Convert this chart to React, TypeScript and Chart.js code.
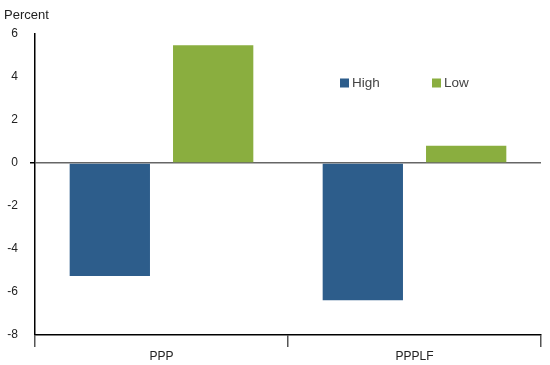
import React, { useEffect, useRef } from "react";
import { Chart, registerables } from "chart.js";

Chart.register(...registerables);

const categories = ["PPP", "PPPLF"];
const highValues = [-5.25, -6.38];
const lowValues = [5.48, 0.8];
const seriesNames = ["High", "Low"];
const seriesColors = ["#2d5d8b", "#8aae3f"];
const yTitle = "Percent";

const FONT = "'Liberation Sans', Arial, sans-serif";

const overlayPlugin = {
  id: "overlay",
  afterDraw(chart: any) {
    const ctx = chart.ctx;
    const area = chart.chartArea;
    ctx.save();
    ctx.font = `13px ${FONT}`;
    ctx.fillStyle = "#222";
    ctx.textBaseline = "middle";
    ctx.textAlign = "left";
    ctx.fillText(yTitle, 4, 15);
    // legend inside plot
    const xs = [area.left + 305, area.left + 397];
    const y = 83;
    chart.data.datasets.forEach((ds: any, i: number) => {
      ctx.fillStyle = ds.backgroundColor;
      ctx.fillRect(xs[i], y - 4.5, 9, 9);
      ctx.fillStyle = "#444";
      ctx.font = `13.5px ${FONT}`;
      ctx.fillText(ds.label, xs[i] + 12, y);
    });
    ctx.restore();
  },
};

export default function App() {
  const ref = useRef<HTMLCanvasElement>(null);
  useEffect(() => {
    if (!ref.current) return;
    const chart = new Chart(ref.current, {
      type: "bar",
      data: {
        labels: categories,
        datasets: [
          { label: seriesNames[0], data: highValues, backgroundColor: seriesColors[0] },
          { label: seriesNames[1], data: lowValues, backgroundColor: seriesColors[1] },
        ],
      },
      options: {
        animation: false,
        responsive: false,
        maintainAspectRatio: false,
        layout: { padding: { left: 0, right: 9, top: 34, bottom: 0 } },
        datasets: { bar: { categoryPercentage: 0.817, barPercentage: 0.777 } },
        plugins: { legend: { display: false }, tooltip: { enabled: false }, title: { display: false } },
        scales: {
          x: {
            grid: { offset: true, drawOnChartArea: false, drawTicks: true, tickLength: 12, tickColor: "#555", lineWidth: 1.5 },
            border: { display: true, color: "#000", width: 1.5 },
            ticks: { color: "#222", font: { family: FONT, size: 12 }, padding: 2 },
            afterFit: (s: any) => { s.height = 30; },
          },
          y: {
            min: -8,
            max: 6,
            grid: {
              drawOnChartArea: true,
              color: (c: any) => (c.tick && c.tick.value === 0 ? "#666" : "rgba(0,0,0,0)"),
              lineWidth: (c: any) => (c.tick && c.tick.value === 0 ? 1.5 : 0),
              tickColor: "#000",
              tickLength: 5,
            },
            border: { display: true, color: "#000", width: 1.5 },
            ticks: { stepSize: 2, color: "#222", font: { family: FONT, size: 12 }, padding: 12 },
            afterFit: (s: any) => { s.width = 35; },
          },
        },
      },
      plugins: [overlayPlugin],
    });
    return () => chart.destroy();
  }, []);
  return (
    <div style={{ position: "absolute", left: 0, top: 0, width: 550, height: 365, background: "#fff" }}>
      <canvas ref={ref} width={550} height={365} />
    </div>
  );
}
